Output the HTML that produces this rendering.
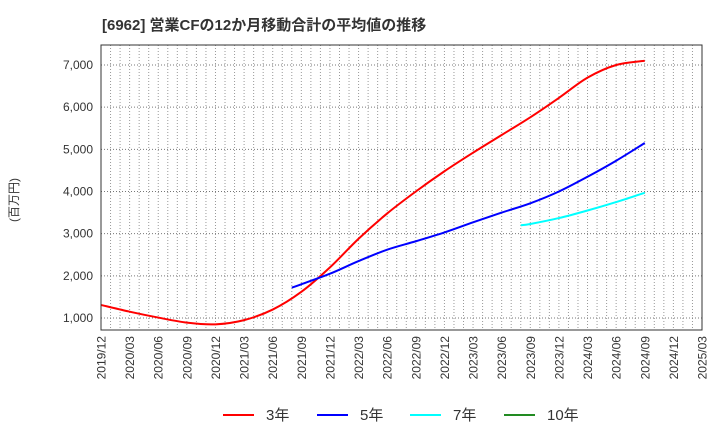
<!DOCTYPE html>
<html><head><meta charset="utf-8"><style>
body{margin:0;background:#fff;width:720px;height:440px;overflow:hidden;font-family:"Liberation Sans","Noto Sans CJK JP",sans-serif}
</style></head><body>
<svg id="c" width="720" height="440" xmlns="http://www.w3.org/2000/svg">
<text x="102" y="30" font-size="15" font-weight="bold" fill="#333">[6962]  営業CFの12か月移動合計の平均値の推移</text>
<text transform="translate(18,200) rotate(-90)" font-size="12" fill="#333" text-anchor="middle">(百万円)</text>
<g id="grid"></g><g id="axes"></g><g id="series"></g>
<rect x="101" y="45" width="601" height="285" fill="none" stroke="#333" stroke-width="1"/>
<g id="legend" font-size="15" fill="#333"></g>
</svg>
<script>
const xLabels=["2019/12","2020/03","2020/06","2020/09","2020/12","2021/03","2021/06","2021/09","2021/12","2022/03","2022/06","2022/09","2022/12","2023/03","2023/06","2023/09","2023/12","2024/03","2024/06","2024/09","2024/12","2025/03"];
const yTicks=[1000,2000,3000,4000,5000,6000,7000];
const m3=[0,3,6,9,12,15,18,21,24,27,30,33,36,39,42,45,48,51,54,57];
const v3=[1310,1150,1010,890,850,950,1200,1620,2200,2880,3480,4000,4480,4920,5340,5760,6220,6700,7000,7100];
const m5=[20,21,24,27,30,33,36,39,42,45,48,51,54,57];
const v5=[1720,1800,2050,2350,2620,2820,3030,3270,3500,3720,4000,4350,4730,5150];
const m7=[44,45,48,51,54,57];
const v7=[3200,3230,3370,3550,3750,3970];
const NS="http://www.w3.org/2000/svg";
const X=m=>101+m*601/63, Y=v=>318-(v-1000)*253/6000;
function mk(t,a,p){const e=document.createElementNS(NS,t);for(const k in a)e.setAttribute(k,a[k]);document.getElementById(p).appendChild(e);return e;}
for(let m=1;m<63;m++){const l=mk('line',{x1:X(m),x2:X(m),y1:45,y2:330,stroke:'#999','stroke-dasharray':'1,2','stroke-width':1},'grid');

}
yTicks.forEach(v=>{const l=mk('line',{x1:101,x2:702,y1:Y(v),y2:Y(v),stroke:'#777','stroke-dasharray':'1,2'},'grid');


const t=mk('text',{x:93,y:Y(v)+4,'font-size':12,'text-anchor':'end',fill:'#333'},'axes');t.textContent=v.toLocaleString('en-US');

});
xLabels.forEach((s,i)=>{const x=X(i*3);const t=mk('text',{transform:`translate(${x+4.5},336) rotate(-90)`,'font-size':12,'text-anchor':'end',fill:'#333'},'axes');t.textContent=s;

});
function path(ms,vs){const p=ms.map((m,i)=>[X(m),Y(vs[i])]);let d=`M${p[0][0]},${p[0][1]}`;
for(let i=0;i<p.length-1;i++){const p0=p[i-1]||p[i],p1=p[i],p2=p[i+1],p3=p[i+2]||p2;
d+=` C${p1[0]+(p2[0]-p0[0])/6},${p1[1]+(p2[1]-p0[1])/6} ${p2[0]-(p3[0]-p1[0])/6},${p2[1]-(p3[1]-p1[1])/6} ${p2[0]},${p2[1]}`;}return d;}
[[m3,v3,'#ff0000','series-3yr'],[m5,v5,'#0000ff','series-5yr'],[m7,v7,'#00ffff','series-7yr']].forEach(s=>{const e=mk('path',{d:path(s[0],s[1]),fill:'none',stroke:s[2],'stroke-width':2},'series');

});
[['3年','#ff0000',223],['5年','#0000ff',317],['7年','#00ffff',410],['10年','#228b22',504]].forEach(l=>{const ln=mk('line',{x1:l[2],x2:l[2]+31,y1:415,y2:415,stroke:l[1],'stroke-width':2},'legend');


const t=mk('text',{x:l[2]+43,y:420},'legend');t.textContent=l[0];

});
</script>
</body></html>
